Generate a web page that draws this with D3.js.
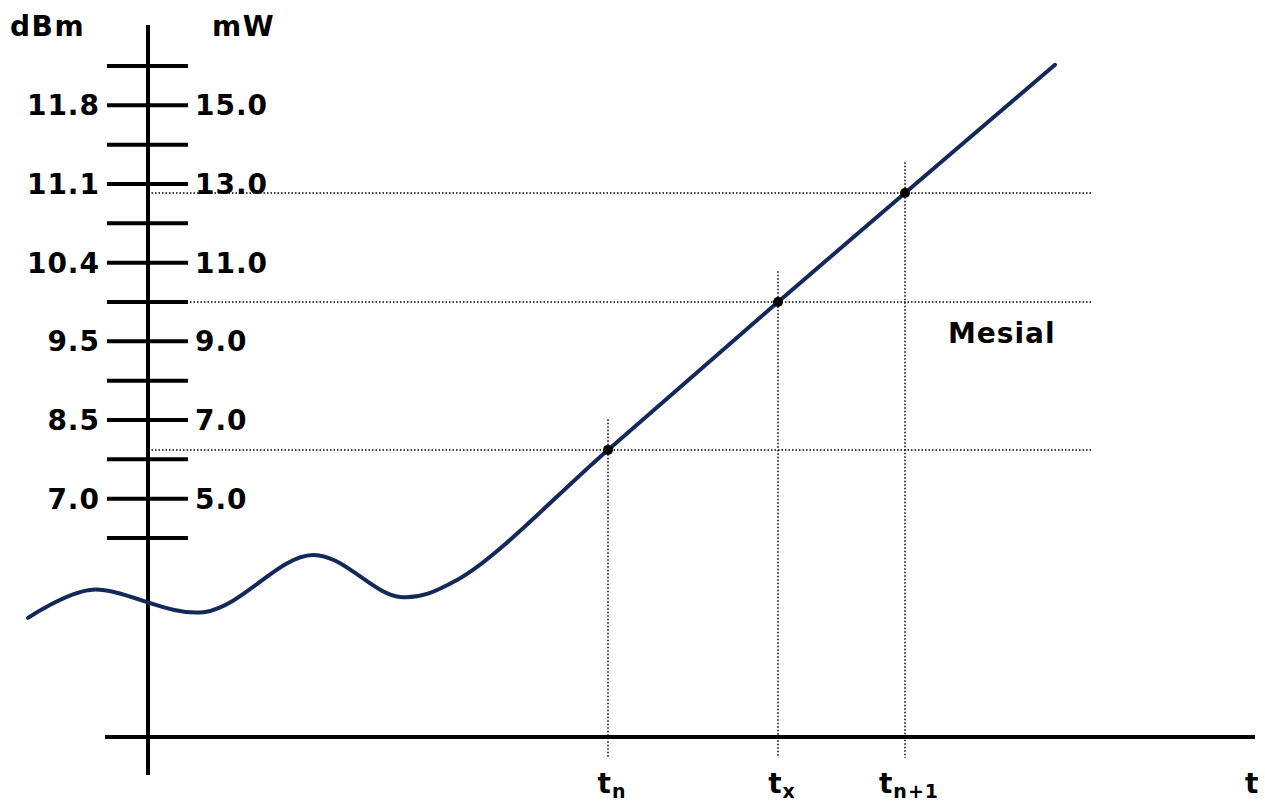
<!DOCTYPE html>
<html lang="en">
<head>
  <meta charset="utf-8">
  <script src="https://d3js.org/d3.v7.min.js"></script>
  <style>
    body { margin: 0; background: #fff; }
    text { font-family: "DejaVu Sans", Verdana, sans-serif; font-weight: bold; fill: #000; }
  </style>
</head>
<body>
<script>
  // tick values on the power axis (mW), every 1 mW, labelled every 2
  const mwTicks = [4, 5, 6, 7, 8, 9, 10, 11, 12, 13, 14, 15, 16];
  const mwLabels = ["5.0", "7.0", "9.0", "11.0", "13.0", "15.0"];
  const mwLabelVals = [5, 7, 9, 11, 13, 15];
  const dbmLabels = ["7.0", "8.5", "9.5", "10.4", "11.1", "11.8"];

  // the signal: time (arbitrary units) vs power (mW)
  const sigT = [-12, -5.8, 5.7, 16.5, 25.2, 30.9, 46, 63, 75.7, 90.7];
  const sigMw = [1.97, 2.68, 2.12, 3.57, 2.5, 2.93, 6.24, 10.0, 12.77, 16.03];

  // marked crossings
  const markNames = [["t", "n"], ["t", "x"], ["t", "n+1"]];
  const markT = [46, 63, 75.7];
  const markMw = [6.24, 10.0, 12.77];

  const w = 1265, h = 801;
  const axisY = 737;

  const x = d3.scaleLinear().domain([0, 100]).range([148, 1148]);
  const y = d3.scaleLinear().domain([4, 16]).range([538, 66]);

  const svg = d3.select("body").append("svg")
    .attr("width", w).attr("height", h);

  // dotted guides
  markT.forEach((t, i) => {
    svg.append("line")
      .attr("x1", x(0)).attr("x2", x(94.4))
      .attr("y1", y(markMw[i])).attr("y2", y(markMw[i]))
      .attr("stroke", "#000").attr("stroke-width", 1.5)
      .attr("stroke-dasharray", "1.5,2");
    svg.append("line")
      .attr("x1", x(t)).attr("x2", x(t))
      .attr("y1", y(markMw[i] + 0.78)).attr("y2", axisY + 21)
      .attr("stroke", "#000").attr("stroke-width", 1.5)
      .attr("stroke-dasharray", "1.5,2");
  });

  // axes
  svg.append("line")
    .attr("x1", x(0)).attr("x2", x(0))
    .attr("y1", 25).attr("y2", 775)
    .attr("stroke", "#000").attr("stroke-width", 4);
  svg.append("line")
    .attr("x1", 105).attr("x2", 1255)
    .attr("y1", axisY).attr("y2", axisY)
    .attr("stroke", "#000").attr("stroke-width", 4);

  // ticks across the vertical axis
  svg.selectAll(".tick")
    .data(mwTicks)
    .enter().append("line")
    .attr("class", "tick")
    .attr("x1", 107).attr("x2", 188)
    .attr("y1", d => y(d)).attr("y2", d => y(d))
    .attr("stroke", "#000").attr("stroke-width", 4);

  svg.selectAll(".mw")
    .data(mwLabelVals)
    .enter().append("text")
    .attr("class", "mw")
    .attr("x", 195)
    .attr("y", d => y(d))
    .attr("dy", "0.36em")
    .attr("font-size", 28)
    .attr("letter-spacing", 1)
    .text((d, i) => mwLabels[i]);

  svg.selectAll(".dbm")
    .data(mwLabelVals)
    .enter().append("text")
    .attr("class", "dbm")
    .attr("x", 100)
    .attr("y", d => y(d))
    .attr("dy", "0.36em")
    .attr("text-anchor", "end")
    .attr("font-size", 28)
    .attr("letter-spacing", 1)
    .text((d, i) => dbmLabels[i]);

  svg.append("text").attr("x", 10).attr("y", 36).attr("font-size", 28)
    .attr("letter-spacing", 1.5).text("dBm");
  svg.append("text").attr("x", 212).attr("y", 36).attr("font-size", 28)
    .attr("letter-spacing", 1.5).text("mW");

  // signal curve
  const line = d3.line()
    .x(d => x(d[0]))
    .y(d => y(d[1]))
    .curve(d3.curveCatmullRom.alpha(0.5));
  svg.append("path")
    .datum(sigT.map((t, i) => [t, sigMw[i]]))
    .attr("d", line)
    .attr("fill", "none")
    .attr("stroke", "#14285a")
    .attr("stroke-width", 4)
    .attr("stroke-linecap", "round");

  svg.selectAll(".pt")
    .data(markT)
    .enter().append("circle")
    .attr("class", "pt")
    .attr("cx", d => x(d))
    .attr("cy", (d, i) => y(markMw[i]))
    .attr("r", 5)
    .attr("fill", "#000");

  // time labels
  markT.forEach((t, i) => {
    const lbl = svg.append("text")
      .attr("x", x(t) + 4).attr("y", 793)
      .attr("text-anchor", "middle")
      .attr("font-size", 28)
      .attr("letter-spacing", 1);
    lbl.append("tspan").text(markNames[i][0]);
    lbl.append("tspan").attr("font-size", 19).attr("dy", 5).text(markNames[i][1]);
  });

  svg.append("text").attr("x", 1245).attr("y", 793).attr("font-size", 28).text("t");
  svg.append("text").attr("x", 948).attr("y", 343).attr("font-size", 28)
    .attr("letter-spacing", 1).text("Mesial");
</script>
</body>
</html>
